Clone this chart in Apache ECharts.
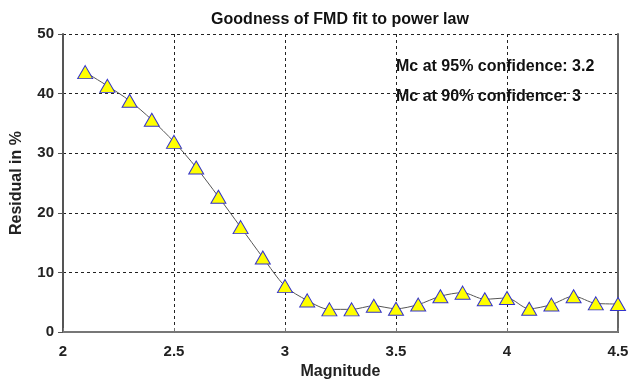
<!DOCTYPE html>
<html><head><meta charset="utf-8">
<script src="https://cdn.jsdelivr.net/npm/echarts@6/dist/echarts.min.js"></script>
<style>html,body{margin:0;padding:0;background:#fff}#c{width:638px;height:385px}</style>
</head><body><div id="c"></div>
<script>
const magnitude = [2.1,2.2,2.3,2.4,2.5,2.6,2.7,2.8,2.9,3.0,3.1,3.2,3.3,3.4,3.5,3.6,3.7,3.8,3.9,4.0,4.1,4.2,4.3,4.4,4.5];
const residual = [43.6,41.3,38.8,35.6,31.9,27.6,22.7,17.6,12.5,7.7,5.3,3.8,3.8,4.4,3.9,4.6,6.0,6.6,5.5,5.7,3.9,4.6,6.0,4.8,4.7];
const xTicks = [2,2.5,3,3.5,4,4.5];
const yTicks = [0,10,20,30,40,50];
const annotations = ["Mc at 95% confidence: 3.2", "Mc at 90% confidence: 3"];

const chart = echarts.init(document.getElementById('c'));
const font = 'Arial, "Liberation Sans", sans-serif';
chart.setOption({
  animation:false,
  title:{text:'Goodness of FMD fit to power law', left:335, textAlign:'center', top:7,
    textStyle:{fontFamily:font, fontSize:16, fontWeight:'bold', color:'#111'}},
  grid:{left:63, right:20, top:34, bottom:52},
  xAxis:[{type:'value', min:2, max:4.5, interval:0.5,
    name:'Magnitude', nameLocation:'middle', nameGap:32,
    nameTextStyle:{fontFamily:font, fontSize:16, fontWeight:'bold', color:'#222'},
    axisLine:{onZero:false, lineStyle:{color:'#111', width:2}},
    axisTick:{show:false},
    axisLabel:{fontFamily:font, fontSize:15, fontWeight:'bold', color:'#222', margin:12,
      formatter:v=>String(v)},
    splitLine:{show:true, lineStyle:{color:'#222', type:[3,3], width:1}}},
   {type:'value', position:'top', min:2, max:4.5, interval:0.5,
    axisLine:{lineStyle:{color:'#777', width:2}},
    axisTick:{show:true, inside:false, length:4, lineStyle:{color:'#777'}},
    axisLabel:{show:false}, splitLine:{show:false}}],
  yAxis:[{type:'value', min:0, max:50, interval:10,
    name:'Residual in %', nameLocation:'middle', nameGap:38, nameRotate:90,
    nameTextStyle:{fontFamily:font, fontSize:16, fontWeight:'bold', color:'#222'},
    axisLine:{show:true, lineStyle:{color:'#555', width:2}},
    axisTick:{show:true, length:5, lineStyle:{color:'#555'}},
    axisLabel:{fontFamily:font, fontSize:15, fontWeight:'bold', color:'#222', margin:9},
    splitLine:{show:true, lineStyle:{color:'#222', type:[3,3], width:1}}},
   {type:'value', position:'right', min:0, max:50, interval:10,
    axisLine:{show:true, lineStyle:{color:'#666', width:2}},
    axisTick:{show:false}, axisLabel:{show:false}, splitLine:{show:false}}],
  series:[{type:'line', data:magnitude.map((m,i)=>[m,residual[i]]),
    smooth:0.3, symbol:'triangle', symbolSize:[15,13],
    lineStyle:{color:'#555', width:1},
    itemStyle:{color:'#ffff00', borderColor:'#3333cc', borderWidth:1}}],
  graphic:annotations.map((t,i)=>({type:'text', left:396, top:59+i*30,
    style:{text:t, font:'bold 16px '+font, fill:'#111'}}))
});
</script></body></html>
